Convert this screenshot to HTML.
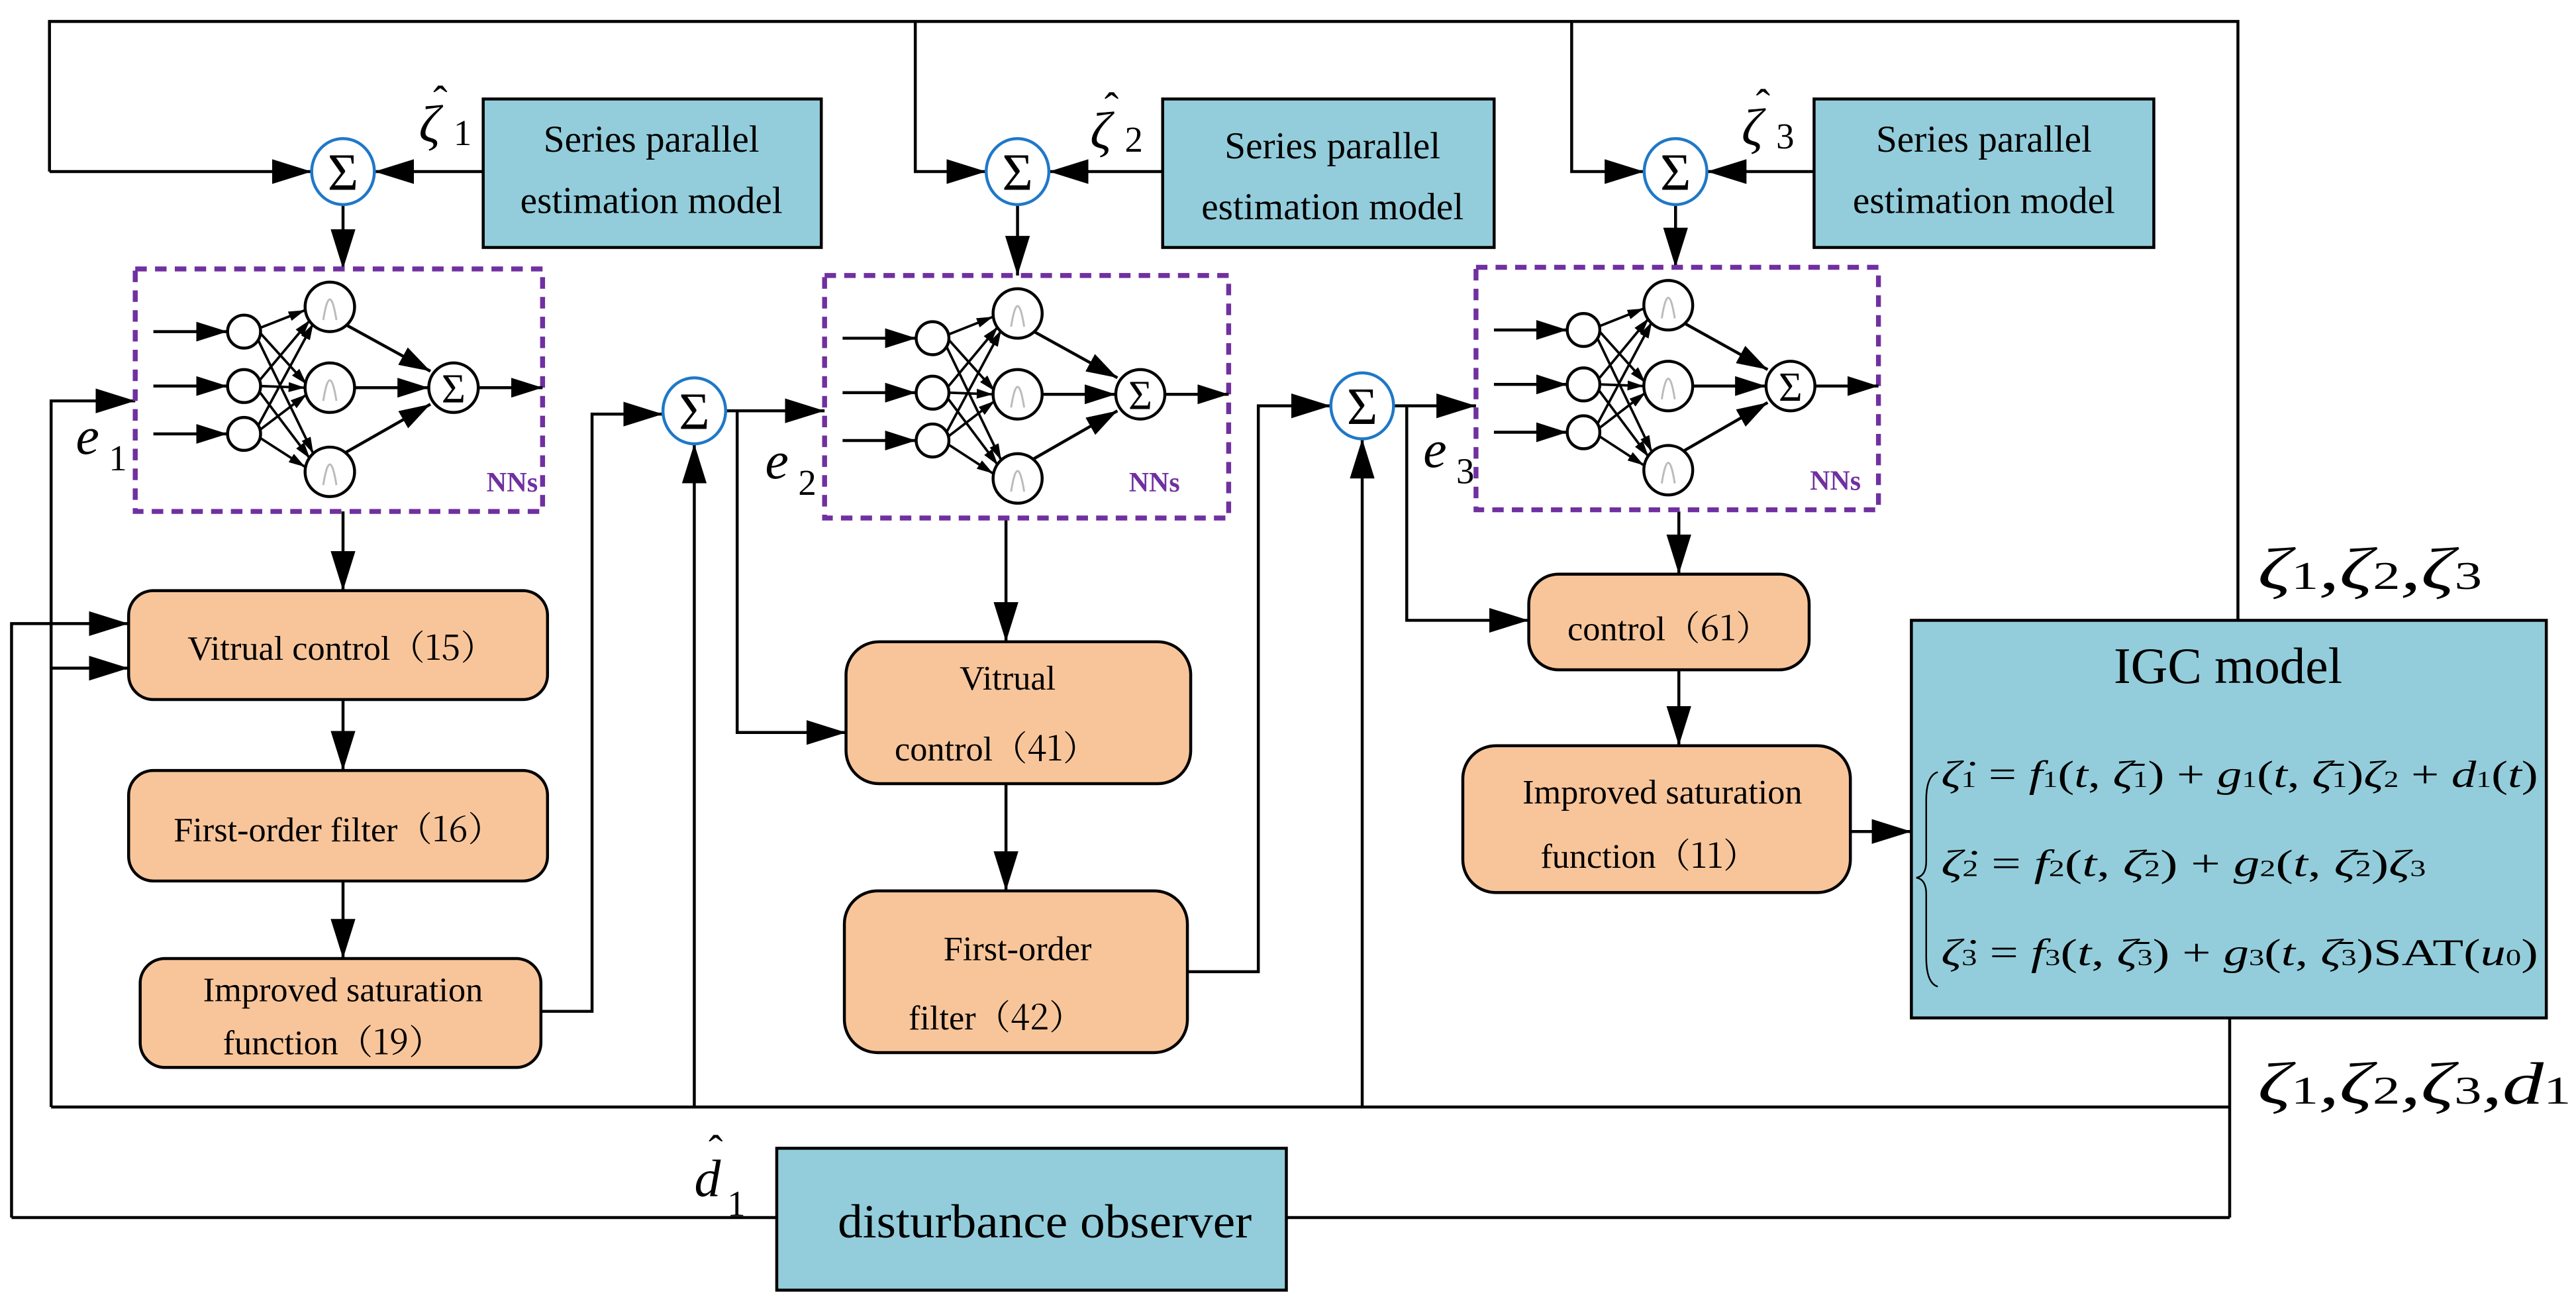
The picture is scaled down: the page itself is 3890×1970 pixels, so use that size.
<!DOCTYPE html>
<html><head><meta charset="utf-8"><style>
html,body{margin:0;padding:0;background:#fff;}
svg{display:block;}
svg text{font-family:"Liberation Serif","Times New Roman","DejaVu Serif",serif;}
svg text .cj{font-family:"Noto Serif CJK SC","Noto Sans CJK SC",serif;}
</style></head><body>
<svg width="3890" height="1970" viewBox="0 0 1562 791" preserveAspectRatio="none" xmlns="http://www.w3.org/2000/svg">
<defs>
<marker id="a" viewBox="0 0 10 10" refX="10" refY="5" markerWidth="24" markerHeight="15" markerUnits="userSpaceOnUse" orient="auto" preserveAspectRatio="none"><path d="M0,0L10,5L0,10z" fill="#000"/></marker>
<marker id="s" viewBox="0 0 10 10" refX="10" refY="5" markerWidth="19" markerHeight="12" markerUnits="userSpaceOnUse" orient="auto" preserveAspectRatio="none"><path d="M0,0L10,5L0,10z" fill="#000"/></marker>
<marker id="t" viewBox="0 0 10 10" refX="10" refY="5" markerWidth="10" markerHeight="6" markerUnits="userSpaceOnUse" orient="auto" preserveAspectRatio="none"><path d="M0,0L10,5L0,10z" fill="#000"/></marker>
</defs>
<g fill="none" stroke="#000" stroke-width="1.8">
<polyline points="30,104 30,13 1357,13 1357,376"/>
<line x1="30" y1="104" x2="189" y2="104" marker-end="url(#a)"/>
<polyline points="555,13 555,104 598,104" marker-end="url(#a)"/>
<polyline points="953,13 953,104 997,104" marker-end="url(#a)"/>
<line x1="293" y1="104" x2="227" y2="104" marker-end="url(#a)"/>
<line x1="705" y1="104" x2="636" y2="104" marker-end="url(#a)"/>
<line x1="1100" y1="104" x2="1035" y2="104" marker-end="url(#a)"/>
<line x1="208" y1="124" x2="208" y2="163" marker-end="url(#a)"/>
<line x1="617" y1="124" x2="617" y2="167" marker-end="url(#a)"/>
<line x1="1016" y1="124" x2="1016" y2="162" marker-end="url(#a)"/>
<line x1="208" y1="310" x2="208" y2="358" marker-end="url(#a)"/>
<line x1="610" y1="314" x2="610" y2="389" marker-end="url(#a)"/>
<line x1="1018" y1="310" x2="1018" y2="348" marker-end="url(#a)"/>
<polyline points="31,671 31,243 82,243" marker-end="url(#a)"/>
<line x1="31" y1="405" x2="78" y2="405" marker-end="url(#a)"/>
<polyline points="7,738 7,378 78,378" marker-end="url(#a)"/>
<line x1="7" y1="738" x2="471" y2="738"/>
<line x1="208" y1="424" x2="208" y2="467" marker-end="url(#a)"/>
<line x1="208" y1="534" x2="208" y2="581" marker-end="url(#a)"/>
<polyline points="328,613 359,613 359,251 402,251" marker-end="url(#a)"/>
<line x1="421" y1="671" x2="421" y2="269" marker-end="url(#a)"/>
<line x1="440" y1="249" x2="500" y2="249" marker-end="url(#a)"/>
<polyline points="447,249 447,444 513,444" marker-end="url(#a)"/>
<line x1="610" y1="475" x2="610" y2="540" marker-end="url(#a)"/>
<polyline points="720,589 763,589 763,246 807,246" marker-end="url(#a)"/>
<line x1="826" y1="671" x2="826" y2="266" marker-end="url(#a)"/>
<line x1="845" y1="246" x2="895" y2="246" marker-end="url(#a)"/>
<polyline points="853,246 853,376 927,376" marker-end="url(#a)"/>
<line x1="1018" y1="406" x2="1018" y2="452" marker-end="url(#a)"/>
<line x1="1122" y1="504" x2="1159" y2="504" marker-end="url(#a)"/>
<line x1="31" y1="671" x2="1352" y2="671"/>
<line x1="1352" y1="617" x2="1352" y2="738"/>
<line x1="780" y1="738" x2="1352" y2="738"/>
</g>

<g fill="#93cddb" stroke="#000" stroke-width="1.8">
<rect x="293" y="60" width="205" height="90"/>
<rect x="705" y="60" width="201" height="90"/>
<rect x="1100" y="60" width="206" height="90"/>
<rect x="1159" y="376" width="385" height="241"/>
<rect x="471" y="696" width="309" height="86"/>
</g>
<g font-size="23" text-anchor="middle">
<text x="395" y="92">Series parallel</text><text x="395" y="129">estimation model</text>
<text x="808" y="96">Series parallel</text><text x="808" y="133">estimation model</text>
<text x="1203" y="92">Series parallel</text><text x="1203" y="129">estimation model</text>
<text x="508" y="750" font-size="29" text-anchor="start" textLength="251" lengthAdjust="spacingAndGlyphs">disturbance observer</text>
<text x="1351" y="414" font-size="31">IGC model</text>
</g>

<g fill="#f8c59a" stroke="#000" stroke-width="1.8">
<rect x="78" y="358" width="254" height="66" rx="15"/>
<rect x="78" y="467" width="254" height="67" rx="15"/>
<rect x="85" y="581" width="243" height="66" rx="15"/>
<rect x="513" y="389" width="209" height="86" rx="20"/>
<rect x="512" y="540" width="208" height="98" rx="20"/>
<rect x="927" y="348" width="170" height="58" rx="18"/>
<rect x="887" y="452" width="235" height="89" rx="20"/>
</g>
<g font-size="21" text-anchor="middle">
<text x="207" y="400">Vitrual  control<tspan class="cj">（15）</tspan></text>
<text x="205" y="510">First-order filter<tspan class="cj">（16）</tspan></text>
<text x="208" y="607">Improved saturation</text>
<text x="202" y="639">function<tspan class="cj">（19）</tspan></text>
<text x="611" y="418">Vitrual</text>
<text x="604" y="461">control<tspan class="cj">（41）</tspan></text>
<text x="617" y="582">First-order</text>
<text x="604" y="624">filter<tspan class="cj">（42）</tspan></text>
<text x="1012" y="388">control<tspan class="cj">（61）</tspan></text>
<text x="1008" y="487">Improved saturation</text>
<text x="1000" y="526">function<tspan class="cj">（11）</tspan></text>
</g>

<g fill="#fff" stroke="#1f78c8" stroke-width="1.8">
<ellipse cx="208" cy="104" rx="19" ry="20"/>
<ellipse cx="617" cy="104" rx="19" ry="20"/>
<ellipse cx="1016" cy="104" rx="19" ry="20"/>
<ellipse cx="421" cy="249" rx="19" ry="20"/>
<ellipse cx="826" cy="246" rx="19" ry="20"/>
</g>
<g font-size="32" text-anchor="middle">
<text x="208" y="115">Σ</text><text x="617" y="115">Σ</text><text x="1016" y="115">Σ</text>
<text x="421" y="260">Σ</text><text x="826" y="257">Σ</text>
</g>

<g transform="translate(82,163)">
<rect x="0" y="0" width="247" height="147" fill="none" stroke="#7030a0" stroke-width="3" stroke-dasharray="7 5"/>
<g stroke="#000" stroke-width="1.8" fill="none">
<line x1="11" y1="38" x2="56" y2="38" marker-end="url(#s)"/>
<line x1="11" y1="71" x2="56" y2="71" marker-end="url(#s)"/>
<line x1="11" y1="100" x2="56" y2="100" marker-end="url(#s)"/>
<g marker-end="url(#t)" stroke-width="1.5">
<line x1="75" y1="36" x2="103" y2="25"/><line x1="75" y1="38" x2="104" y2="70"/><line x1="74" y1="42" x2="108" y2="112"/>
<line x1="75" y1="68" x2="106" y2="31"/><line x1="76" y1="71" x2="103" y2="72"/><line x1="75" y1="74" x2="106" y2="115"/>
<line x1="74" y1="96" x2="108" y2="33"/><line x1="75" y1="98" x2="104" y2="76"/><line x1="75" y1="102" x2="103" y2="120"/>
</g>
<line x1="128" y1="34" x2="179" y2="62" marker-end="url(#s)"/>
<line x1="133" y1="72" x2="178" y2="72" marker-end="url(#s)"/>
<line x1="128" y1="111" x2="179" y2="82" marker-end="url(#s)"/>
<line x1="208" y1="72" x2="247" y2="72" marker-end="url(#s)"/>
<g fill="#fff"><circle cx="66" cy="38" r="10"/><circle cx="66" cy="71" r="10"/><circle cx="66" cy="100" r="10"/>
<circle cx="118" cy="23" r="15"/><circle cx="118" cy="72" r="15"/><circle cx="118" cy="123" r="15"/><circle cx="193" cy="72" r="15"/></g>
<g stroke="#bbb" stroke-width="1.2"><path d="M114,31 Q118,6 122,31"/><path d="M114,80 Q118,55 122,80"/><path d="M114,131 Q118,106 122,131"/></g>
</g>
<text x="193" y="81" font-size="25" text-anchor="middle">Σ</text>
<text x="213" y="135" font-size="17" font-weight="bold" fill="#7030a0">NNs</text>
</g>
<g transform="translate(500,167) scale(0.992,1)">
<rect x="0" y="0" width="247" height="147" fill="none" stroke="#7030a0" stroke-width="3" stroke-dasharray="7 5"/>
<g stroke="#000" stroke-width="1.8" fill="none">
<line x1="11" y1="38" x2="56" y2="38" marker-end="url(#s)"/>
<line x1="11" y1="71" x2="56" y2="71" marker-end="url(#s)"/>
<line x1="11" y1="100" x2="56" y2="100" marker-end="url(#s)"/>
<g marker-end="url(#t)" stroke-width="1.5">
<line x1="75" y1="36" x2="103" y2="25"/><line x1="75" y1="38" x2="104" y2="70"/><line x1="74" y1="42" x2="108" y2="112"/>
<line x1="75" y1="68" x2="106" y2="31"/><line x1="76" y1="71" x2="103" y2="72"/><line x1="75" y1="74" x2="106" y2="115"/>
<line x1="74" y1="96" x2="108" y2="33"/><line x1="75" y1="98" x2="104" y2="76"/><line x1="75" y1="102" x2="103" y2="120"/>
</g>
<line x1="128" y1="34" x2="179" y2="62" marker-end="url(#s)"/>
<line x1="133" y1="72" x2="178" y2="72" marker-end="url(#s)"/>
<line x1="128" y1="111" x2="179" y2="82" marker-end="url(#s)"/>
<line x1="208" y1="72" x2="247" y2="72" marker-end="url(#s)"/>
<g fill="#fff"><circle cx="66" cy="38" r="10"/><circle cx="66" cy="71" r="10"/><circle cx="66" cy="100" r="10"/>
<circle cx="118" cy="23" r="15"/><circle cx="118" cy="72" r="15"/><circle cx="118" cy="123" r="15"/><circle cx="193" cy="72" r="15"/></g>
<g stroke="#bbb" stroke-width="1.2"><path d="M114,31 Q118,6 122,31"/><path d="M114,80 Q118,55 122,80"/><path d="M114,131 Q118,106 122,131"/></g>
</g>
<text x="193" y="81" font-size="25" text-anchor="middle">Σ</text>
<text x="186" y="131" font-size="17" font-weight="bold" fill="#7030a0">NNs</text>
</g>
<g transform="translate(895,162) scale(0.988,1)">
<rect x="0" y="0" width="247" height="147" fill="none" stroke="#7030a0" stroke-width="3" stroke-dasharray="7 5"/>
<g stroke="#000" stroke-width="1.8" fill="none">
<line x1="11" y1="38" x2="56" y2="38" marker-end="url(#s)"/>
<line x1="11" y1="71" x2="56" y2="71" marker-end="url(#s)"/>
<line x1="11" y1="100" x2="56" y2="100" marker-end="url(#s)"/>
<g marker-end="url(#t)" stroke-width="1.5">
<line x1="75" y1="36" x2="103" y2="25"/><line x1="75" y1="38" x2="104" y2="70"/><line x1="74" y1="42" x2="108" y2="112"/>
<line x1="75" y1="68" x2="106" y2="31"/><line x1="76" y1="71" x2="103" y2="72"/><line x1="75" y1="74" x2="106" y2="115"/>
<line x1="74" y1="96" x2="108" y2="33"/><line x1="75" y1="98" x2="104" y2="76"/><line x1="75" y1="102" x2="103" y2="120"/>
</g>
<line x1="128" y1="34" x2="179" y2="62" marker-end="url(#s)"/>
<line x1="133" y1="72" x2="178" y2="72" marker-end="url(#s)"/>
<line x1="128" y1="111" x2="179" y2="82" marker-end="url(#s)"/>
<line x1="208" y1="72" x2="247" y2="72" marker-end="url(#s)"/>
<g fill="#fff"><circle cx="66" cy="38" r="10"/><circle cx="66" cy="71" r="10"/><circle cx="66" cy="100" r="10"/>
<circle cx="118" cy="23" r="15"/><circle cx="118" cy="72" r="15"/><circle cx="118" cy="123" r="15"/><circle cx="193" cy="72" r="15"/></g>
<g stroke="#bbb" stroke-width="1.2"><path d="M114,31 Q118,6 122,31"/><path d="M114,80 Q118,55 122,80"/><path d="M114,131 Q118,106 122,131"/></g>
</g>
<text x="193" y="81" font-size="25" text-anchor="middle">Σ</text>
<text x="205" y="135" font-size="17" font-weight="bold" fill="#7030a0">NNs</text>
</g>

<g font-size="32" font-style="italic">
<text x="254" y="86">ζ</text><text x="661" y="90">ζ</text><text x="1056" y="88">ζ</text>
<text x="46" y="275">e</text><text x="464" y="290">e</text><text x="863" y="283">e</text>
<text x="421" y="725">d</text>
</g>
<g font-size="22">
<text x="275" y="88">1</text><text x="682" y="92">2</text><text x="1077" y="90">3</text>
<text x="66" y="285">1</text><text x="484" y="300">2</text><text x="883" y="293">3</text>
<text x="441" y="737">1</text>
</g>
<g font-size="26" text-anchor="middle">
<text x="267" y="70">ˆ</text><text x="674" y="74">ˆ</text><text x="1069" y="72">ˆ</text><text x="434" y="706">ˆ</text>
</g>
<text x="1369" y="357" font-size="36" font-style="italic" textLength="136" lengthAdjust="spacingAndGlyphs">ζ<tspan font-size="24" font-style="normal">1</tspan>,ζ<tspan font-size="24" font-style="normal">2</tspan>,ζ<tspan font-size="24" font-style="normal">3</tspan></text>
<text x="1369" y="669" font-size="36" font-style="italic" textLength="190" lengthAdjust="spacingAndGlyphs">ζ<tspan font-size="24" font-style="normal">1</tspan>,ζ<tspan font-size="24" font-style="normal">2</tspan>,ζ<tspan font-size="24" font-style="normal">3</tspan>,d<tspan font-size="24" font-style="normal">1</tspan></text>

<path d="M1175,468 Q1168,470 1168,485 L1168,522 Q1168,531 1162,532 Q1168,533 1168,542 L1168,580 Q1168,596 1175,598" fill="none" stroke="#000" stroke-width="1"/>
<g font-size="23">
<text x="1177" y="477" textLength="362" lengthAdjust="spacingAndGlyphs"><tspan font-style="italic">ζ̇</tspan><tspan font-size="14">1</tspan> = <tspan font-style="italic">f</tspan><tspan font-size="14">1</tspan>(<tspan font-style="italic">t</tspan>, <tspan font-style="italic">ζ̄</tspan><tspan font-size="14">1</tspan>) + <tspan font-style="italic">g</tspan><tspan font-size="14">1</tspan>(<tspan font-style="italic">t</tspan>, <tspan font-style="italic">ζ̄</tspan><tspan font-size="14">1</tspan>)<tspan font-style="italic">ζ</tspan><tspan font-size="14">2</tspan> + <tspan font-style="italic">d</tspan><tspan font-size="14">1</tspan>(<tspan font-style="italic">t</tspan>)</text>
<text x="1177" y="531" textLength="294" lengthAdjust="spacingAndGlyphs"><tspan font-style="italic">ζ̇</tspan><tspan font-size="14">2</tspan> = <tspan font-style="italic">f</tspan><tspan font-size="14">2</tspan>(<tspan font-style="italic">t</tspan>, <tspan font-style="italic">ζ̄</tspan><tspan font-size="14">2</tspan>) + <tspan font-style="italic">g</tspan><tspan font-size="14">2</tspan>(<tspan font-style="italic">t</tspan>, <tspan font-style="italic">ζ̄</tspan><tspan font-size="14">2</tspan>)<tspan font-style="italic">ζ</tspan><tspan font-size="14">3</tspan></text>
<text x="1177" y="585" textLength="362" lengthAdjust="spacingAndGlyphs"><tspan font-style="italic">ζ̇</tspan><tspan font-size="14">3</tspan> = <tspan font-style="italic">f</tspan><tspan font-size="14">3</tspan>(<tspan font-style="italic">t</tspan>, <tspan font-style="italic">ζ̄</tspan><tspan font-size="14">3</tspan>) + <tspan font-style="italic">g</tspan><tspan font-size="14">3</tspan>(<tspan font-style="italic">t</tspan>, <tspan font-style="italic">ζ̄</tspan><tspan font-size="14">3</tspan>)SAT(<tspan font-style="italic">u</tspan><tspan font-size="14">0</tspan>)</text>
</g>
</svg>
</body></html>
